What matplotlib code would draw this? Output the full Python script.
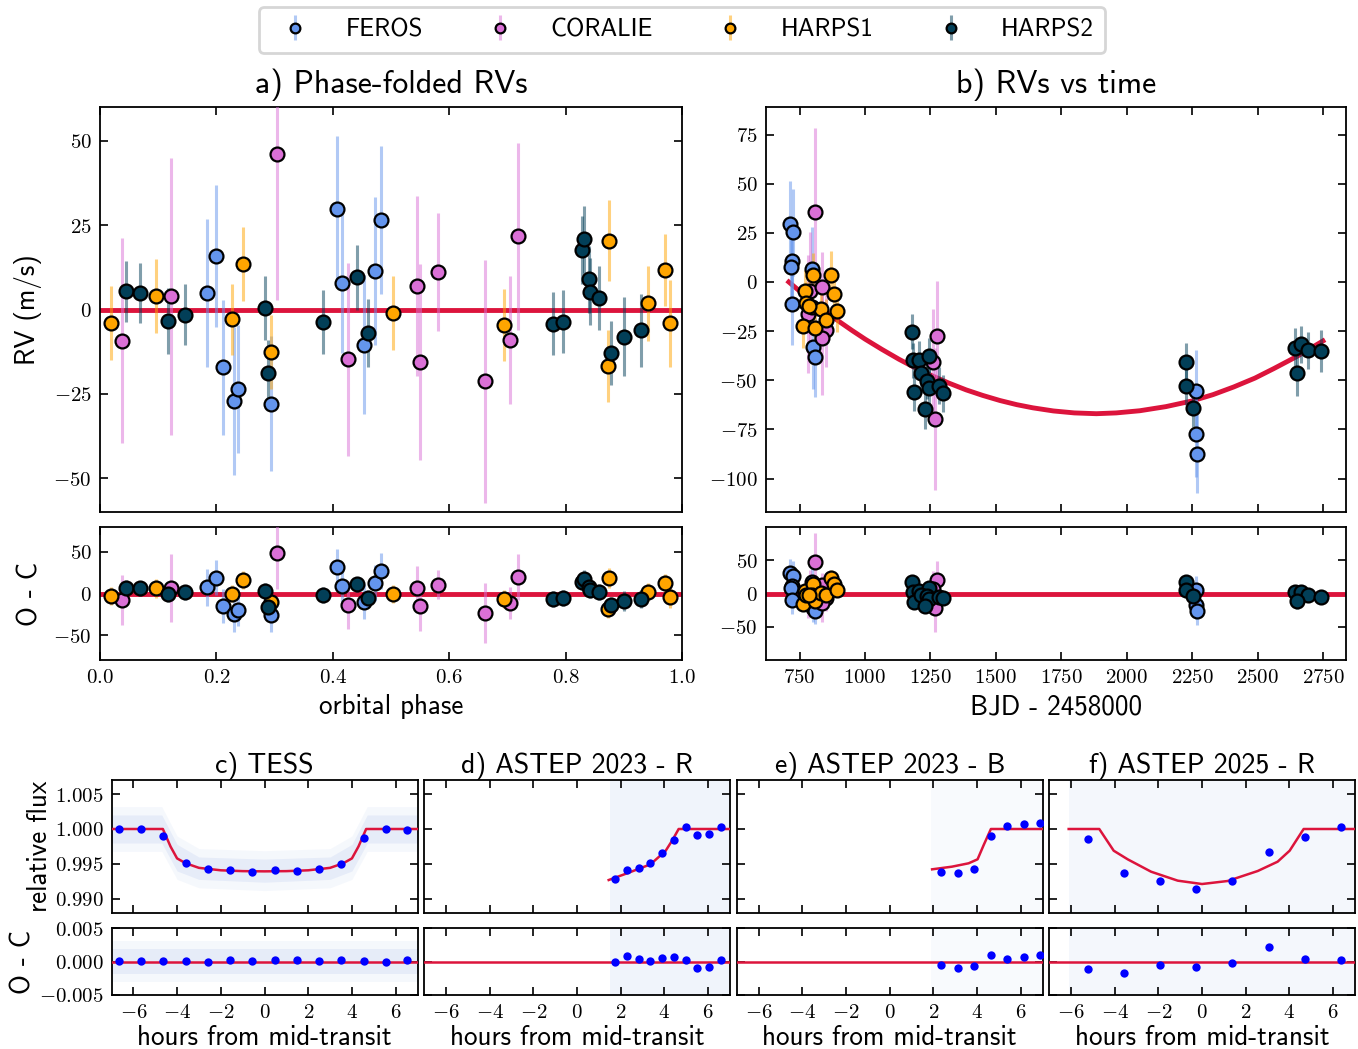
import numpy as np
import matplotlib
matplotlib.use("Agg")
import matplotlib.pyplot as plt
from matplotlib.colors import to_rgba
from matplotlib.ticker import FuncFormatter, FixedLocator

plt.rcParams['font.family'] = 'cmss10'
plt.rcParams['mathtext.fontset'] = 'cm'

# ---------------- RV data: phase-folded (panel a) ----------------
feros_ph = [0.183, 0.199, 0.212, 0.231, 0.237, 0.294, 0.407, 0.416, 0.454, 0.473, 0.483]
feros_rv = [4.9, 15.8, -17.1, -27.1, -23.5, -27.9, 29.7, 8.0, -10.5, 11.4, 26.5]
feros_err = [22, 21, 20, 22, 19, 20, 21.6, 21, 20.6, 21.8, 21.8]
feros_oc = [7.3, 18.8, -15.0, -24.3, -20.0, -25.9, 31.4, 9.3, -9.7, 12.5, 27.1]

coralie_ph = [0.038, 0.122, 0.304, 0.426, 0.545, 0.550, 0.580, 0.661, 0.704, 0.718]
coralie_rv = [-9.2, 3.9, 46.1, -14.8, 6.9, -15.5, 11.1, -21.2, -9.1, 21.7]
coralie_err = [30.5, 41, 43.4, 28.7, 26.6, 29, 17.6, 36, 19, 27.7]
coralie_oc = [-7.7, 6.9, 48.8, -14.0, 6.5, -15.6, 10.5, -23.0, -11.3, 19.9]

harps1_ph = [0.019, 0.097, 0.227, 0.246, 0.294, 0.504, 0.694, 0.873, 0.875, 0.942, 0.971, 0.980]
harps1_rv = [-3.9, 4.1, -2.9, 13.5, -12.5, -1.1, -4.6, -16.7, 20.4, 1.8, 11.8, -4.1]
harps1_err = [11, 11, 10.6, 11, 11, 11, 10.6, 10.7, 12, 11, 10.7, 12.9]
harps1_oc = [-2.6, 6.1, -0.2, 16.0, -9.7, -0.6, -6.5, -18.4, 18.8, 1.8, 12.5, -4.2]

harps2_ph = [0.045, 0.069, 0.116, 0.146, 0.283, 0.288, 0.383, 0.442, 0.460, 0.778, 0.795,
             0.829, 0.831, 0.840, 0.842, 0.858, 0.878, 0.901, 0.929]
harps2_rv = [5.4, 4.9, -3.4, -1.5, 0.4, -18.9, -3.6, 9.5, -6.9, -4.2, -3.6,
             17.6, 20.8, 8.9, 5.3, 3.4, -12.9, -8.0, -6.1]
harps2_err = [9, 9, 9.7, 9, 9.5, 10, 9.5, 9.5, 10, 9.4, 9.4, 10, 10, 10, 10, 9.4, 9.5, 11.7, 10.8]
harps2_oc = [7.0, 6.1, -1.0, 1.4, 3.4, -16.4, -1.8, 10.9, -5.7, -6.5, -5.7,
             14.4, 18.0, 7.3, 4.2, 1.8, -13.6, -8.9, -6.5]

# ---------------- RV data vs time (panel b) ----------------
feros_t = [715.2, 724.3, 721.7, 716.5, 720.4, 798.9, 801.5, 807.9, 2264.0, 2265.4, 2267.9]
feros_rvt = [29.6, 25.2, 10.7, 7.8, -11.2, 6.8, -33.3, -38.4, -55.5, -77.3, -87.3]
feros_errt = [21.6, 22, 21, 20, 21, 21, 21, 20, 21, 22, 20]
feros_oct = [30.6, 26.7, 12.0, 8.8, -10.0, 17.8, -22.3, -26.4, 5.0, -16.8, -26.8]

coralie_t = [807.9, 791.0, 837.5, 782.0, 853.0, 835.0, 1274.0, 1258.5, 1267.5]
coralie_rvt = [35.5, -4.6, -2.4, -16.4, -24.2, -28.6, -27.4, -40.9, -69.8]
coralie_errt = [43, 30, 17.6, 30, 19, 29, 28, 27, 36]
coralie_oct = [47.5, 5.9, 12.6, -6.4, -7.2, -13.6, 20.6, 6.1, -22.3]

harps1_t = [770.6, 762.9, 775.7, 801.5, 798.9, 809.2, 832.4, 850.4, 869.7, 880.0, 892.9, 785.0]
harps1_rvt = [-4.7, -22.5, -10.8, 3.6, -12.7, -23.2, -13.9, -19.3, 3.6, -6.1, -14.9, -12.0]
harps1_errt = [11, 11, 10.6, 11, 11, 11, 10.6, 10.7, 12, 11, 10.7, 12.9]
harps1_oct = [3.3, -15.5, -1.8, 14.6, -1.7, -11.2, 1.1, -2.3, 22.6, 13.9, 5.6, -2.0]

harps2_t = [1181.0, 1182.5, 1205.7, 1245.6, 1189.0, 1213.4, 1239.0, 1245.6, 1229.0, 1281.7, 1298.4,
            2225.7, 2225.7, 2253.8, 2642.4, 2665.5, 2692.4, 2651.4, 2743.6]
harps2_rvt = [-25.2, -39.9, -39.6, -37.4, -56.1, -46.5, -50.2, -54.0, -64.8, -52.8, -56.5,
              -40.9, -52.8, -63.9, -33.5, -31.8, -34.8, -46.3, -35.2]
harps2_errt = [9, 9, 9.7, 9, 9.5, 10, 9.5, 9.5, 10, 9.4, 9.4, 10, 10, 10, 10, 9.4, 9.5, 11.7, 10.8]
harps2_oct = [17.3, 2.6, 4.4, 8.9, -12.6, -2.0, -4.2, -7.7, -19.3, -4.8, -7.5,
              17.1, 5.2, -3.9, 2.0, 1.7, -2.8, -11.8, -5.2]

# long-term model curve
model_t = [709, 760, 808, 860, 898, 950, 1001, 1065, 1130, 1190, 1250, 1320, 1387, 1450, 1516,
           1580, 1641, 1720, 1800, 1884, 1960, 2050, 2150, 2250, 2330, 2409, 2490, 2563, 2650, 2750]
model_rv = [0.0, -5.7, -10.8, -16.1, -19.8, -24.6, -29.1, -34.3, -39.3, -43.5, -47.3, -51.4,
            -54.9, -57.7, -60.3, -62.4, -64.0, -65.6, -66.6, -67.0, -66.6, -65.5, -63.4, -60.5,
            -57.3, -53.4, -48.9, -44.0, -37.9, -30.0]

# ---------------- photometry ----------------
tess_x = [-6.64, -5.63, -4.63, -3.59, -2.58, -1.57, -0.55, 0.46, 1.48, 2.49, 3.50, 4.53, 5.54, 6.54]
tess_f = [1.0000, 1.0000, 0.99905, 0.99514, 0.99424, 0.99414, 0.9939, 0.9941, 0.99395, 0.99424,
          0.99495, 0.99876, 1.00005, 0.99986]
tess_oc = [0.0001, 0.0001, 0.0001, 0.00005, 0.0, 0.00015, 0.00005, 0.00015, 0.00015, 0.0001,
           0.0002, 0.00005, 0.0, 0.0002]
tess_mx = [-7, -4.65, -4.3, -4.0, -3.6, -3.0, -2.0, -1.0, 0, 1.0, 2.0, 3.0, 3.6, 4.0, 4.3, 4.65, 7]
tess_mf = [1.0, 1.0, 0.9975, 0.9958, 0.9951, 0.99445, 0.9941, 0.99398, 0.99395, 0.99398, 0.9941,
           0.99445, 0.9951, 0.9958, 0.9975, 1.0, 1.0]
tess_cx = [-7, -4.7, -4.0, -3.0, 0, 3.0, 4.0, 4.7, 7]
tess_chi = [1.0020, 1.0020, 0.9978, 0.9960, 0.9957, 0.9960, 0.9978, 1.0020, 1.0020]
tess_clo = [0.9980, 0.9980, 0.9940, 0.9928, 0.9924, 0.9928, 0.9940, 0.9980, 0.9980]

astR23_x = [1.76, 2.29, 2.82, 3.36, 3.89, 4.45, 4.99, 5.51, 6.05, 6.59]
astR23_f = [0.9929, 0.99419, 0.99448, 0.9951, 0.99657, 0.99843, 1.00024, 0.9991, 0.99933, 1.00029]
astR23_oc = [-0.0001, 0.00075, 0.0003, 0.00005, 0.00055, 0.0006, 0.00025, -0.0009, -0.00075, 0.0002]
astR23_mx = [1.45, 2.29, 3.36, 4.05, 4.37, 4.65, 7.0]
astR23_mf = [0.99271, 0.99367, 0.99495, 0.99686, 0.99843, 1.0, 1.0]
astR23_cx = [1.5, 7.0]

astB23_x = [2.35, 3.11, 3.86, 4.63, 5.38, 6.14, 6.88]
astB23_f = [0.99381, 0.99367, 0.99433, 0.999, 1.00043, 1.00071, 1.0009]
astB23_oc = [-0.00055, -0.00095, -0.0007, 0.0009, 0.0004, 0.0007, 0.0009]
astB23_mx = [1.94, 2.85, 3.61, 4.02, 4.30, 4.63, 7.0]
astB23_mf = [0.99424, 0.99462, 0.9951, 0.99567, 0.99771, 1.0, 1.0]
astB23_cx = [1.9, 7.0]

astR25_x = [-5.23, -3.58, -1.92, -0.26, 1.39, 3.05, 4.71, 6.34]
astR25_f = [0.99857, 0.99376, 0.99262, 0.99138, 0.99252, 0.99676, 0.9989, 1.00029]
astR25_oc = [-0.0011, -0.0017, -0.0005, -0.00085, -0.00015, 0.0022, 0.0003, 0.00025]
astR25_mx = [-6.1, -4.7, -4.04, -3.4, -2.33, -1.11, 0.0, 1.17, 2.55, 3.46, 4.01, 4.65, 7.0]
astR25_mf = [1.0, 1.0, 0.9969, 0.99567, 0.9939, 0.99262, 0.99214, 0.99257, 0.994, 0.99533,
             0.9969, 1.0, 1.0]
astR25_cx = [-6.1, 7.0]

colors = {'FEROS': '#6495ED', 'CORALIE': '#DA70D6', 'HARPS1': '#FFA500', 'HARPS2': '#023F58'}
red = '#DC143C'
cloud = '#7f9fe0'

W, H = 1358, 1049
fig = plt.figure(figsize=(W / 100, H / 100), dpi=100)


def rect(l, t, r, b):
    return [l / W, 1 - b / H, (r - l) / W, (b - t) / H]


def mfmt(fmt):
    # tick labels as math text so they come out in Computer Modern serif
    return FuncFormatter(lambda v, p: '$' + (fmt % v) + '$')


def style(ax, size=15):
    ax.tick_params(direction='in', top=True, right=True, length=6, width=1.2, labelsize=size, pad=6)
    for s in ax.spines.values():
        s.set_linewidth(1.3)


def rv_points(ax, x, y, e, name):
    c = colors[name]
    return ax.errorbar(x, y, yerr=e, fmt='o', ms=10, mfc=c, mec='k', mew=1.6,
                       ecolor=to_rgba(c, 0.5), elinewidth=2.2, capsize=0, label=name, zorder=3)


axA = fig.add_axes(rect(100, 107, 682, 512))
axAr = fig.add_axes(rect(100, 527, 682, 660))
axB = fig.add_axes(rect(766, 107, 1346, 512))
axBr = fig.add_axes(rect(766, 527, 1346, 660))

sets_a = [(feros_ph, feros_rv, feros_err, feros_oc, 'FEROS'),
          (coralie_ph, coralie_rv, coralie_err, coralie_oc, 'CORALIE'),
          (harps1_ph, harps1_rv, harps1_err, harps1_oc, 'HARPS1'),
          (harps2_ph, harps2_rv, harps2_err, harps2_oc, 'HARPS2')]
handles = []
for ph, rv, er, oc, name in sets_a:
    handles.append(rv_points(axA, ph, rv, er, name))
    rv_points(axAr, ph, oc, er, name)
for ax in (axA, axAr):
    ax.axhline(0, color=red, lw=3.5, zorder=2)
    ax.set_xlim(0, 1)
    ax.set_xticks([0, 0.2, 0.4, 0.6, 0.8, 1.0])
    ax.xaxis.set_major_formatter(mfmt('%.1f'))
    ax.yaxis.set_major_formatter(mfmt('%d'))
    style(ax)
axA.set_ylim(-60, 60)
axA.set_yticks([-50, -25, 0, 25, 50])
axA.set_xticklabels([])
axAr.set_ylim(-80, 80)
axAr.set_yticks([-50, 0, 50])
axA.set_ylabel('RV (m/s)', fontsize=19.5, labelpad=8)
axAr.set_ylabel('O - C', fontsize=19.5, labelpad=8)
axAr.set_xlabel('orbital phase', fontsize=19.5, labelpad=5)
axA.set_title('a) Phase-folded RVs', fontsize=23, pad=10)

sets_b = [(feros_t, feros_rvt, feros_errt, feros_oct, 'FEROS'),
          (coralie_t, coralie_rvt, coralie_errt, coralie_oct, 'CORALIE'),
          (harps1_t, harps1_rvt, harps1_errt, harps1_oct, 'HARPS1'),
          (harps2_t, harps2_rvt, harps2_errt, harps2_oct, 'HARPS2')]
for t, rv, er, oc, name in sets_b:
    rv_points(axB, t, rv, er, name)
    rv_points(axBr, t, oc, er, name)
axB.plot(model_t, model_rv, color=red, lw=3.5, zorder=2)
axBr.axhline(0, color=red, lw=3.5, zorder=2)
xt = [750, 1000, 1250, 1500, 1750, 2000, 2250, 2500, 2750]
for ax in (axB, axBr):
    ax.set_xlim(622, 2838)
    ax.set_xticks(xt)
    ax.xaxis.set_major_formatter(mfmt('%d'))
    ax.yaxis.set_major_formatter(mfmt('%d'))
    style(ax)
axB.set_xticklabels([])
axB.set_ylim(-117, 89)
axB.set_yticks([-100, -75, -50, -25, 0, 25, 50, 75])
axBr.set_ylim(-100, 100)
axBr.set_yticks([-50, 0, 50])
axBr.set_xlabel('BJD - 2458000', fontsize=19.5, labelpad=5)
axB.set_title('b) RVs vs time', fontsize=23, pad=10)

# ---------------- transit panels ----------------
phot = [
    ('c) TESS', tess_x, tess_f, tess_oc, tess_mx, tess_mf),
    ('d) ASTEP 2023 - R', astR23_x, astR23_f, astR23_oc, astR23_mx, astR23_mf),
    ('e) ASTEP 2023 - B', astB23_x, astB23_f, astB23_oc, astB23_mx, astB23_mf),
    ('f) ASTEP 2025 - R', astR25_x, astR25_f, astR25_oc, astR25_mx, astR25_mf),
]
lefts = [111.5, 424, 736.7, 1049]
for i, (title, x, f, oc, mx, mf) in enumerate(phot):
    l = lefts[i]
    ax = fig.add_axes(rect(l, 780, l + 306, 913))
    axr = fig.add_axes(rect(l, 928, l + 306, 995))

    # background cloud of unbinned points
    if i == 0:
        ax.fill_between(tess_cx, tess_clo, tess_chi, color=cloud, alpha=0.13, lw=0)
        ax.fill_between(tess_cx, np.array(tess_clo) - 0.0012, np.array(tess_chi) + 0.0012,
                        color=cloud, alpha=0.07, lw=0)
        axr.fill_between(tess_cx, -0.0018, 0.0018, color=cloud, alpha=0.13, lw=0)
        axr.fill_between(tess_cx, -0.003, 0.003, color=cloud, alpha=0.07, lw=0)
    else:
        cx = [astR23_cx, astB23_cx, astR25_cx][i - 1]
        a = [0.11, 0.05, 0.08][i - 1]
        ax.fill_between(cx, 0.988, 1.007, color=cloud, alpha=a, lw=0)
        axr.fill_between(cx, -0.005, 0.005, color=cloud, alpha=a, lw=0)

    ax.plot(mx, mf, color=red, lw=1.8, zorder=3)
    ax.plot(x, f, 'o', color='#0000ff', ms=6, mew=0, zorder=4)
    axr.axhline(0, color=red, lw=1.8, zorder=3)
    axr.plot(x, oc, 'o', color='#0000ff', ms=6, mew=0, zorder=4)

    for a_ in (ax, axr):
        a_.set_xlim(-7, 7)
        a_.set_xticks([-6, -4, -2, 0, 2, 4, 6])
        a_.xaxis.set_major_formatter(mfmt('%d'))
        style(a_, 15)
    ax.set_ylim(0.988, 1.007)
    ax.yaxis.set_major_locator(FixedLocator([0.990, 0.995, 1.000, 1.005]))
    axr.set_ylim(-0.005, 0.005)
    axr.yaxis.set_major_locator(FixedLocator([-0.005, 0.0, 0.005]))
    ax.set_xticklabels([])
    ax.set_title(title, fontsize=20, pad=4)
    axr.set_xlabel('hours from mid-transit', fontsize=19.5, labelpad=2)
    if i == 0:
        ax.yaxis.set_major_formatter(mfmt('%.3f'))
        axr.yaxis.set_major_formatter(mfmt('%.3f'))
        ax.set_ylabel('relative flux', fontsize=19.5, labelpad=2)
        axr.set_ylabel('O - C', fontsize=19.5, labelpad=2)
    else:
        ax.set_yticklabels([])
        axr.set_yticklabels([])

leg = fig.legend(handles=handles, loc='upper center', bbox_to_anchor=(682 / W, 1 - 7 / H),
                 ncol=4, fontsize=18, frameon=True, fancybox=True, markerscale=0.7,
                 columnspacing=2.1, handletextpad=1.0, borderpad=0.45, handlelength=2.0,
                 borderaxespad=0)
leg.get_frame().set_edgecolor('#cccccc')
leg.get_frame().set_linewidth(2)

fig.savefig('out.png', dpi=100)
